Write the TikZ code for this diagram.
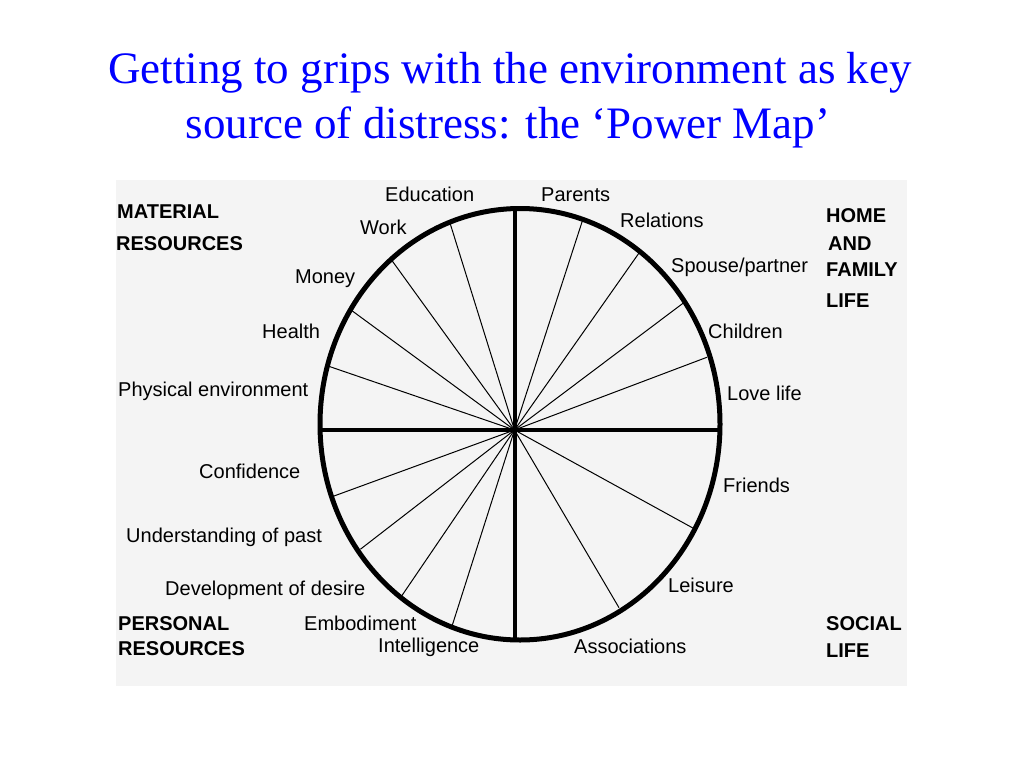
\documentclass[tikz,border=0pt]{standalone}
\usepackage{fontspec}
\setmainfont{Liberation Serif}
\newfontfamily\lblfont{Liberation Sans}
\definecolor{titleblue}{RGB}{0,0,255}
\definecolor{panelgrey}{RGB}{244,244,244}
\begin{document}
\begin{tikzpicture}[x=1pt,y=-1pt,
  lbl/.style={font=\lblfont\fontsize{20}{24}\selectfont, inner sep=0pt, anchor=base west},
  grp/.style={font=\lblfont\bfseries\fontsize{20}{24}\selectfont, inner sep=0pt, anchor=base west},
  ttl/.style={font=\fontsize{45}{54}\selectfont, text=titleblue, inner sep=0pt, anchor=base},
  rim/.style={line width=5pt},
  axisline/.style={line width=4pt},
  spoke/.style={line width=1pt, shorten >=-2pt}]
\useasboundingbox[fill=white] (0,0) rectangle (1024,768);
% title
\node[ttl] (t1) at (510,83) {Getting to grips with the environment as key};
\node[ttl] (t2) at (508,138) {source of distress: the ‘Power Map’};
% panel
\fill[panelgrey] (116,180) rectangle (907,686);
% centre of the cross and ends of the axes
\coordinate (c) at (514.5,430);
\coordinate (top) at (514.5,208.5);
\coordinate (bot) at (514.5,640);
\coordinate (lft) at (320,430);
\coordinate (rgt) at (720,430);
% spokes
\foreach \n/\p in {a/{450,223},b/{393,262},c1/{351,310},d/{328,366},
                   e/{582,222},f/{639,253},g/{682,304},h/{705,358},
                   i/{334,496},j/{362,548},k/{403,594},l/{453,623},
                   m/{691,527},n/{618,606}}{
  \coordinate (s\n) at (\p);
  \draw[spoke] (c) -- (s\n);
}
% axes
\draw[axisline] (top) -- (bot);
\draw[axisline] (lft) -- (rgt);
% rim
\draw[rim] (520,424.25) ellipse [x radius=200pt, y radius=215.75pt];
% labels: material resources
\node[lbl] (edu) at (385,201) {Education};
\node[lbl] (work) at (360,234) {Work};
\node[lbl] (money) at (295,283) {Money};
\node[lbl] (health) at (262,338) {Health};
\node[lbl] (phys) at (118,396) {Physical environment};
% home and family life
\node[lbl] (par) at (541,201) {Parents};
\node[lbl] (rel) at (620,227) {Relations};
\node[lbl] (sp) at (671,272) {Spouse/partner};
\node[lbl] (chi) at (708,338) {Children};
\node[lbl] (love) at (727,400) {Love life};
% personal resources
\node[lbl] (conf) at (199,478) {Confidence};
\node[lbl] (und) at (126,542) {Understanding of past};
\node[lbl] (dev) at (165,595) {Development of desire};
\node[lbl] (emb) at (304,630) {Embodiment};
\node[lbl] (int) at (378,652) {Intelligence};
% social life
\node[lbl] (fri) at (723,492) {Friends};
\node[lbl] (lei) at (668,592) {Leisure};
\node[lbl] (ass) at (574,653) {Associations};
% group headings
\node[grp] (g1a) at (117,218) {MATERIAL};
\node[grp] (g1b) at (116,250) {RESOURCES};
\node[grp] (g2a) at (826,222) {HOME};
\node[grp] (g2b) at (828,250) {AND};
\node[grp] (g2c) at (826,276) {FAMILY};
\node[grp] (g2d) at (826,307) {LIFE};
\node[grp] (g3a) at (118,630) {PERSONAL};
\node[grp] (g3b) at (118,655) {RESOURCES};
\node[grp] (g4a) at (826,630) {SOCIAL};
\node[grp] (g4b) at (826,657) {LIFE};
\end{tikzpicture}
\end{document}
